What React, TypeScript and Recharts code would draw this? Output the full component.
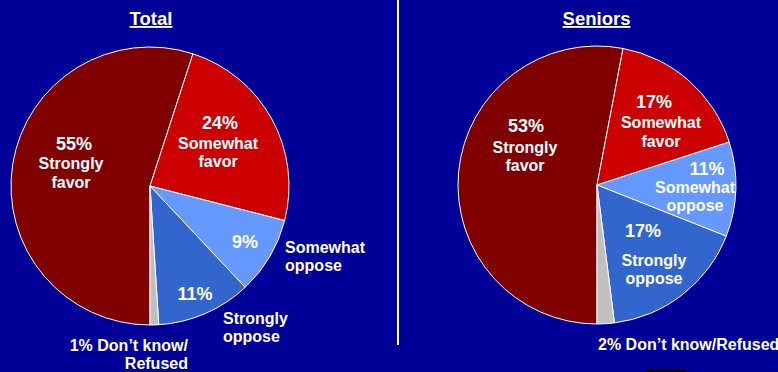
import { Pie, PieChart } from 'recharts';

const categories = [
  'Strongly favor',
  'Somewhat favor',
  'Somewhat oppose',
  'Strongly oppose',
  'Don’t know/Refused',
];
const totalValues = [55, 24, 9, 11, 1];
const seniorValues = [53, 17, 11, 17, 2];

// label text, line by line
const totalLines = [
  ['Strongly', 'favor'],
  ['Somewhat', 'favor'],
  ['Somewhat', 'oppose'],
  ['Strongly', 'oppose'],
  ['Don’t know/', 'Refused'],
];
const seniorLines = [
  ['Strongly', 'favor'],
  ['Somewhat', 'favor'],
  ['Somewhat', 'oppose'],
  ['Strongly', 'oppose'],
  ['Don’t know/Refused'],
];

const COLORS = ['#800000', '#CC0000', '#6699FF', '#3366CC', '#C0C0C0'];
const BG = '#000099';
const FONT = '"Liberation Sans", Arial, sans-serif';

type Layout = { f: number; p: number[] | null; n: number[]; lh: number; a: 'start' | 'middle' | 'end' };

const totalLayout: Layout[] = [
  { f: 0.6, p: [6.4, -23], n: [3.4, -4], lh: 19, a: 'middle' },
  { f: 0.6, p: [-3, -17], n: [-5, 3], lh: 18, a: 'middle' },
  { f: 0.75, p: [5.3, 9], n: [45.3, 14], lh: 18, a: 'start' },
  { f: 0.75, p: [3.6, 18.3], n: [31.6, 42.3], lh: 18, a: 'start' },
  { f: 1, p: null, n: [33.6, 26], lh: 18, a: 'end' },
];
const seniorLayout: Layout[] = [
  { f: 0.5, p: [-1.8, -46.5], n: [-2.8, -25.5], lh: 18, a: 'middle' },
  { f: 0.6, p: [1.8, -14.4], n: [8.8, 5.6], lh: 19, a: 'middle' },
  { f: 0.75, p: [5.8, -13.3], n: [-6.2, 4.7], lh: 18, a: 'middle' },
  { f: 0.6, p: [-5.1, -13.9], n: [5.9, 15.1], lh: 18, a: 'middle' },
  { f: 1, p: null, n: [-7.7, 26.3], lh: 18, a: 'start' },
];

const buildData = (values: number[]) =>
  categories.map((name, i) => ({ name, value: values[i], fill: COLORS[i] }));

const RAD = Math.PI / 180;

function makeLabel(values: number[], lines: string[][], layout: Layout[]) {
  return (props: any) => {
    const { cx, cy, midAngle, outerRadius, index } = props;
    const cfg = layout[index];
    const r = outerRadius * cfg.f;
    const px = cx + r * Math.cos(-midAngle * RAD);
    const py = cy + r * Math.sin(-midAngle * RAD);
    const pct = `${values[index]}%`;
    const names = cfg.p ? lines[index] : lines[index].map((t, j) => (j === 0 ? `${pct} ${t}` : t));
    return (
      <g>
        {cfg.p && (
          <text
            x={px + cfg.p[0]}
            y={py + cfg.p[1]}
            fill="#fff"
            fontSize={18}
            fontWeight="bold"
            fontFamily={FONT}
            textAnchor="middle"
          >
            {pct}
          </text>
        )}
        {names.map((t, j) => (
          <text
            key={j}
            x={px + cfg.n[0]}
            y={py + cfg.n[1] + j * cfg.lh}
            fill="#fff"
            fontSize={16}
            fontWeight="bold"
            fontFamily={FONT}
            textAnchor={cfg.a}
          >
            {t}
          </text>
        ))}
      </g>
    );
  };
}

export default function App() {
  return (
    <div style={{ position: 'absolute', left: 0, top: 0, width: 778, height: 372, background: BG, overflow: 'hidden' }}>
      <PieChart width={778} height={372} margin={{ top: 0, right: 0, bottom: 0, left: 0 }}>
        <Pie
          data={buildData(totalValues)}
          dataKey="value"
          nameKey="name"
          cx={150}
          cy={186}
          outerRadius={139}
          startAngle={270}
          endAngle={-90}
          stroke="#fff"
          strokeWidth={1}
          labelLine={false}
          label={makeLabel(totalValues, totalLines, totalLayout)}
          isAnimationActive={false}
        />
        <Pie
          data={buildData(seniorValues)}
          dataKey="value"
          nameKey="name"
          cx={597}
          cy={185}
          outerRadius={139}
          startAngle={270}
          endAngle={-90}
          stroke="#fff"
          strokeWidth={1}
          labelLine={false}
          label={makeLabel(seniorValues, seniorLines, seniorLayout)}
          isAnimationActive={false}
        />
      </PieChart>
      <svg width={778} height={372} style={{ position: 'absolute', left: 0, top: 0, pointerEvents: 'none' }}>
        <text x={151} y={25} fill="#fff" fontSize={18.5} fontWeight="bold" fontFamily={FONT} textAnchor="middle" textDecoration="underline">
          Total
        </text>
        <text x={596.5} y={25} fill="#fff" fontSize={18.5} fontWeight="bold" fontFamily={FONT} textAnchor="middle" textDecoration="underline">
          Seniors
        </text>
        <line x1={398} y1={0} x2={398} y2={345} stroke="#fff" strokeWidth={2} />
        <rect x={646} y={369} width={40} height={3} fill="#000" />
      </svg>
    </div>
  );
}
